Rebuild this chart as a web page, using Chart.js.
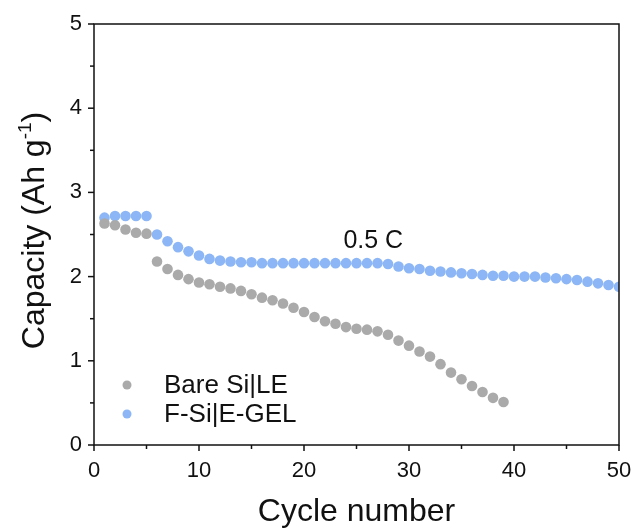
<!DOCTYPE html>
<html>
<head>
<meta charset="utf-8">
<script src="https://cdn.jsdelivr.net/npm/chart.js@4/dist/chart.umd.min.js"></script>
<style>
html,body{margin:0;padding:0;background:#fff;}
#wrap{width:634px;height:531px;}
</style>
</head>
<body>
<div id="wrap"><canvas id="c" width="634" height="531"></canvas></div>
<script>
const bareCycles = [1,2,3,4,5,6,7,8,9,10,11,12,13,14,15,16,17,18,19,20,21,22,23,24,25,26,27,28,29,30,31,32,33,34,35,36,37,38,39];
const bareCapacity = [2.63,2.61,2.56,2.52,2.51,2.18,2.09,2.02,1.97,1.93,1.91,1.88,1.86,1.83,1.79,1.75,1.72,1.68,1.63,1.58,1.52,1.47,1.44,1.40,1.38,1.37,1.35,1.31,1.24,1.18,1.11,1.05,0.96,0.86,0.78,0.70,0.63,0.56,0.51];
const gelCycles = [1,2,3,4,5,6,7,8,9,10,11,12,13,14,15,16,17,18,19,20,21,22,23,24,25,26,27,28,29,30,31,32,33,34,35,36,37,38,39,40,41,42,43,44,45,46,47,48,49,50];
const gelCapacity = [2.70,2.72,2.72,2.72,2.72,2.50,2.42,2.35,2.30,2.25,2.21,2.19,2.18,2.17,2.17,2.16,2.16,2.16,2.16,2.16,2.16,2.16,2.16,2.16,2.16,2.16,2.16,2.15,2.12,2.10,2.09,2.07,2.06,2.05,2.04,2.03,2.02,2.01,2.01,2.00,2.00,2.00,1.99,1.98,1.97,1.96,1.94,1.92,1.90,1.88];
const seriesNames = ['Bare Si|LE', 'F-Si|E-GEL'];
const xTicks = [0,10,20,30,40,50];
const yTicks = [0,1,2,3,4,5];
const annotationText = '0.5 C';
const annotationAt = [26.6, 2.42];

const FONT = '"Liberation Sans", Arial, sans-serif';
const GRAY = 'rgb(170,170,170)';
const BLUE = 'rgb(140,182,245)';

const toPts = (xs, ys) => xs.map((x, i) => ({x, y: ys[i]}));

const decor = {
  id: 'decor',
  afterDraw(chart) {
    const ctx = chart.ctx;
    const a = chart.chartArea;
    const xs = chart.scales.x, ys = chart.scales.y;
    ctx.save();
    ctx.strokeStyle = '#111';
    ctx.lineWidth = 1.5;
    ctx.strokeRect(a.left, a.top, a.right - a.left, a.bottom - a.top);
    for (let v = 0; v <= 50; v += 5) {
      const p = xs.getPixelForValue(v);
      const len = (v % 10 === 0) ? 6 : 4;
      ctx.beginPath(); ctx.moveTo(p, a.bottom); ctx.lineTo(p, a.bottom + len); ctx.stroke();
    }
    for (let v = 0; v <= 5; v += 0.5) {
      const p = ys.getPixelForValue(v);
      const len = (Math.abs(v - Math.round(v)) < 1e-6) ? 6 : 4;
      ctx.beginPath(); ctx.moveTo(a.left, p); ctx.lineTo(a.left - len, p); ctx.stroke();
    }
    ctx.fillStyle = '#111';
    ctx.textBaseline = 'alphabetic';
    const big = '32px ' + FONT, small = '19px ' + FONT;
    const parts = [['Capacity (Ah g', big, 0], ['-1', small, -13], [')', big, 0]];
    let total = 0;
    parts.forEach(p => { ctx.font = p[1]; total += ctx.measureText(p[0]).width; });
    ctx.translate(44, (a.top + a.bottom) / 2 - 4);
    ctx.rotate(-Math.PI / 2);
    let cx = -total / 2;
    parts.forEach(p => { ctx.font = p[1]; ctx.textAlign = 'left'; ctx.fillText(p[0], cx, p[2]); cx += ctx.measureText(p[0]).width; });
    ctx.setTransform(1,0,0,1,0,0);
    ctx.font = '25px ' + FONT;
    ctx.textAlign = 'center';
    ctx.textBaseline = 'middle';
    ctx.fillText(annotationText, xs.getPixelForValue(annotationAt[0]), ys.getPixelForValue(annotationAt[1]));
    const colors = [GRAY, BLUE];
    ctx.font = '26px ' + FONT;
    ctx.textAlign = 'left';
    seriesNames.forEach((n, i) => {
      const y = 385 + i * 29;
      ctx.fillStyle = colors[i];
      ctx.beginPath(); ctx.arc(127, y, 4.5, 0, Math.PI * 2); ctx.fill();
      ctx.fillStyle = '#111';
      ctx.fillText(n, 164, y + 1);
    });
    ctx.restore();
  }
};

new Chart(document.getElementById('c'), {
  type: 'scatter',
  data: {
    datasets: [
      {label: seriesNames[0], data: toPts(bareCycles, bareCapacity), backgroundColor: GRAY, borderColor: GRAY, pointRadius: 5.3, pointBorderWidth: 0},
      {label: seriesNames[1], data: toPts(gelCycles, gelCapacity), backgroundColor: BLUE, borderColor: BLUE, pointRadius: 5.3, pointBorderWidth: 0}
    ]
  },
  options: {
    responsive: false,
    animation: false,
    events: [],
    layout: {padding: {left: 0, right: 15, top: 24, bottom: 0}},
    plugins: {legend: {display: false}, tooltip: {enabled: false}},
    scales: {
      x: {
        type: 'linear', min: 0, max: 50,
        afterBuildTicks: s => { s.ticks = xTicks.map(v => ({value: v})); },
        afterFit: s => { s.height = 86; s.paddingLeft = 0; s.paddingRight = 0; },
        grid: {display: false, drawTicks: false},
        border: {display: false},
        ticks: {color: '#111', font: {family: FONT, size: 22}, padding: 13, maxRotation: 0},
        title: {display: true, text: 'Cycle number', color: '#111', font: {family: FONT, size: 32}, padding: {top: 2, bottom: 0}}
      },
      y: {
        type: 'linear', min: 0, max: 5,
        afterBuildTicks: s => { s.ticks = yTicks.map(v => ({value: v})); },
        afterFit: s => { s.width = 94; s.paddingTop = 0; s.paddingBottom = 0; },
        grid: {display: false, drawTicks: false},
        border: {display: false},
        ticks: {color: '#111', font: {family: FONT, size: 22}, padding: 12}
      }
    }
  },
  plugins: [decor]
});
</script>
</body>
</html>
